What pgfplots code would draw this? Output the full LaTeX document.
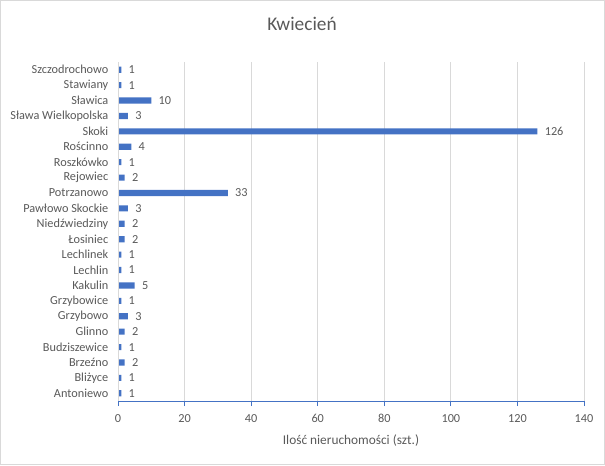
\documentclass[border=0pt]{standalone}
\usepackage{pgfplots}
\pgfplotsset{compat=1.18}
\usepackage{fontspec}
\setmainfont{Carlito}
\definecolor{barblue}{HTML}{4472C4}
\definecolor{txtgray}{HTML}{595959}
\definecolor{gridgray}{HTML}{D9D9D9}
\definecolor{framegray}{HTML}{D9D9D9}
\begin{document}
\begin{tikzpicture}
\draw[framegray, line width=0.75pt] (0.375pt,0.375pt) rectangle (453.375pt,348.375pt);
\node[txtgray, font=\fontsize{14.5}{16}\selectfont] at (226.5pt,330.5pt) {Kwiecień};
\begin{axis}[
  at={(88.5pt,48pt)}, anchor=south west,
  scale only axis, width=349.5pt, height=254.25pt,
  xbar, bar width=4.6pt,
  xmin=0, xmax=140, xtick={0,20,...,140},
  ymin=-0.5, ymax=21.5,
  ytick={0,...,21},
  yticklabels={Antoniewo,Bliżyce,Brzeźno,Budziszewice,Glinno,Grzybowo,Grzybowice,Kakulin,Lechlin,Lechlinek,Łosiniec,Niedźwiedziny,Pawłowo Skockie,Potrzanowo,Rejowiec,Roszkówko,Rościnno,Skoki,Sława Wielkopolska,Sławica,Stawiany,Szczodrochowo},
  /pgf/number format/assume math mode=true,
  ticklabel style={font=\fontsize{9.2}{10}\selectfont, text=txtgray},
  xticklabel style={yshift=-2.5pt},
  xmajorgrids, grid style={gridgray, line width=0.75pt},
  axis line style={draw=none},
  y tick style={draw=none},
  x tick style={barblue, line width=0.75pt},
  xtick align=outside, major tick length=3.75pt,
  axis x line*=bottom, axis y line*=left,
  xlabel={Ilość nieruchomości (szt.)},
  xlabel style={font=\fontsize{10}{12}\selectfont, text=txtgray, yshift=-2pt},
  nodes near coords,
  nodes near coords style={font=\fontsize{9.2}{10}\selectfont, text=txtgray, anchor=west, xshift=2pt},
  every node near coord/.append style={/pgf/number format/assume math mode=true},
  clip=false,
]
\addplot[fill=barblue, draw=none] coordinates {
(1,0) (1,1) (2,2) (1,3) (2,4) (3,5) (1,6) (5,7) (1,8) (1,9) (2,10) (2,11) (3,12) (33,13) (2,14) (1,15) (4,16) (126,17) (3,18) (10,19) (1,20) (1,21)};
\draw[gridgray, line width=0.75pt] (axis cs:0,-0.5) -- (axis cs:0,21.5);
\draw[barblue, line width=0.75pt] (axis cs:0,-0.5) -- (axis cs:140,-0.5);
\end{axis}
\end{tikzpicture}
\end{document}
